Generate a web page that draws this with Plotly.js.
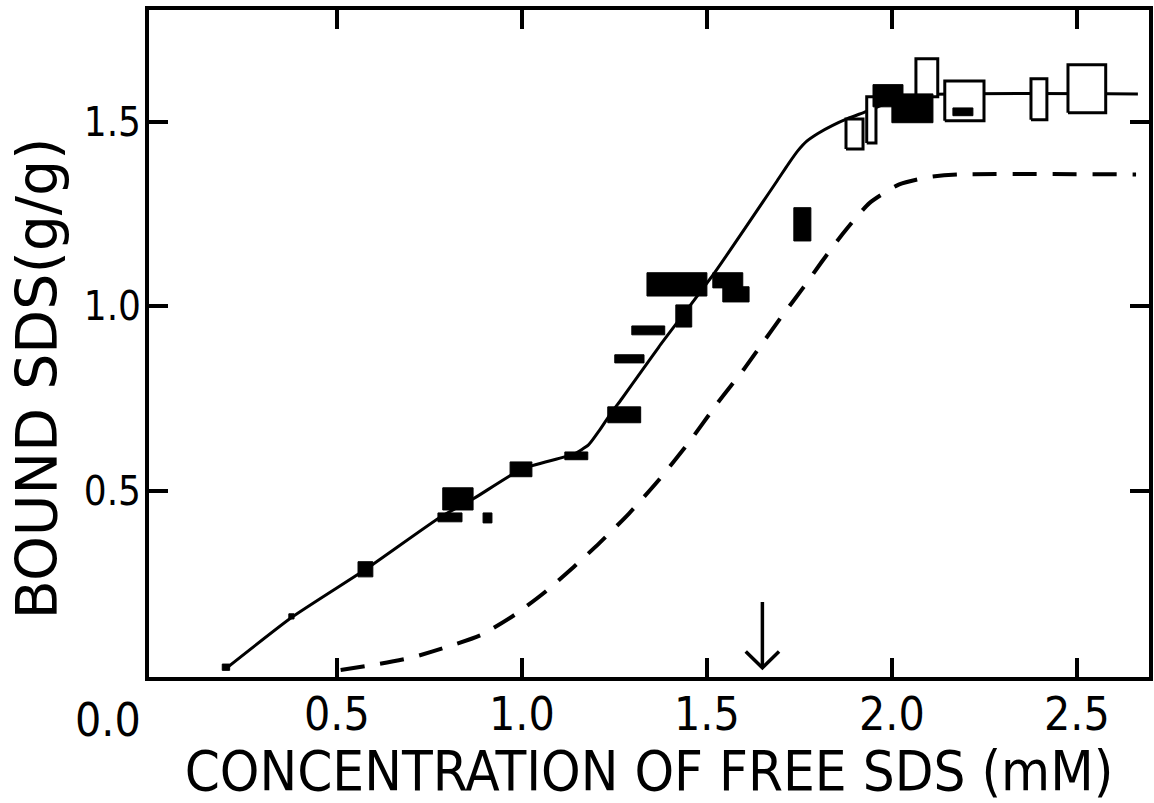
<!DOCTYPE html>
<html>
<head>
<meta charset="utf-8">
<script src="https://cdn.plot.ly/plotly-3.0.1.min.js"></script>
<style>
  html, body { margin: 0; padding: 0; background: #ffffff; }
  #chart { width: 1154px; height: 803px; }
</style>
</head>
<body>
<div id="chart"></div>
<script>
// ---- data ----
// solid curve (bound SDS)
const solidX = [0.20, 0.38, 0.58, 0.78, 0.87, 1.00, 1.14, 1.18, 1.21, 1.24, 1.27, 1.32, 1.37, 1.52, 1.69, 1.72, 1.745, 1.77, 1.80, 1.84, 1.88, 1.93, 2.00, 2.08, 2.665];
const solidY = [0.02, 0.16, 0.29, 0.43, 0.48, 0.56, 0.60, 0.625, 0.665, 0.71, 0.75, 0.82, 0.89, 1.09, 1.34, 1.385, 1.42, 1.447, 1.468, 1.49, 1.508, 1.527, 1.555, 1.572, 1.575];

// dashed curve
const dashX = [0.51, 0.60, 0.70, 0.79, 0.89, 0.98, 1.06, 1.14, 1.21, 1.29, 1.37, 1.45, 1.53, 1.60, 1.65, 1.70, 1.76, 1.81, 1.87, 1.94, 2.02, 2.10, 2.18, 2.66];
const dashY = [0.016, 0.030, 0.049, 0.076, 0.111, 0.165, 0.225, 0.295, 0.36, 0.44, 0.53, 0.63, 0.74, 0.83, 0.90, 0.97, 1.05, 1.12, 1.20, 1.28, 1.33, 1.35, 1.357, 1.357];

// filled (black) data boxes: x range and y range
const filledX0 = [0.19, 0.370, 0.557, 0.786, 0.773, 0.895, 0.968, 1.116, 1.232, 1.251, 1.297, 1.338, 1.516, 1.543, 1.416, 1.735, 1.949, 2.000, 2.165];
const filledX1 = [0.21, 0.384, 0.597, 0.868, 0.838, 0.919, 1.027, 1.178, 1.321, 1.330, 1.386, 1.500, 1.597, 1.614, 1.459, 1.781, 2.030, 2.111, 2.219];
const filledY0 = [0.015, 0.154, 0.268, 0.449, 0.417, 0.414, 0.539, 0.585, 0.685, 0.847, 0.923, 1.028, 1.050, 1.012, 0.944, 1.177, 1.540, 1.497, 1.516];
const filledY1 = [0.032, 0.168, 0.309, 0.509, 0.441, 0.441, 0.579, 0.606, 0.728, 0.869, 0.947, 1.091, 1.091, 1.053, 1.004, 1.267, 1.600, 1.575, 1.537];

// open data boxes: x range and y range
const openX0 = [1.876, 1.932, 2.065, 2.143, 2.376, 2.476];
const openX1 = [1.922, 1.957, 2.124, 2.249, 2.419, 2.578];
const openY0 = [1.426, 1.442, 1.567, 1.502, 1.505, 1.524];
const openY1 = [1.507, 1.567, 1.670, 1.610, 1.616, 1.654];

// arrow marking a concentration on the x axis
const arrowAt = [1.65];
const arrowSpan = [0.20, 0.022];

// tick labels
const xTickVals = [0.5, 1.0, 1.5, 2.0, 2.5];
const xTickText = ['0.5', '1.0', '1.5', '2.0', '2.5'];
const xOriginLabel = ['0.0'];
const yTickVals = [0.5, 1.0, 1.5];
const yTickText = ['0.5', '1.0', '1.5'];

// ---- build traces ----
function rectPath(x0, x1, y0, y1) {
  const xs = [], ys = [];
  for (let i = 0; i < x0.length; i++) {
    xs.push(x0[i], x1[i], x1[i], x0[i], x0[i], null);
    ys.push(y0[i], y0[i], y1[i], y1[i], y0[i], null);
  }
  return { xs, ys };
}
const fr = rectPath(filledX0, filledX1, filledY0, filledY1);
const orr = rectPath(openX0, openX1, openY0, openY1);

const ax = arrowAt[0];
const headW = 0.045, headH = 0.044;
const arrowTrace = {
  x: [ax, ax, null, ax - headW, ax, ax + headW],
  y: [arrowSpan[0], arrowSpan[1], null, arrowSpan[1] + headH, arrowSpan[1], arrowSpan[1] + headH],
  mode: 'lines', line: { color: '#000', width: 3.5 }, hoverinfo: 'skip', showlegend: false
};

const traces = [
  { x: solidX, y: solidY, mode: 'lines', line: { color: '#000', width: 3, shape: 'spline', smoothing: 0.5 }, showlegend: false },
  { x: dashX, y: dashY, mode: 'lines', line: { color: '#000', width: 4, dash: '24px,16px', shape: 'spline', smoothing: 0.6 }, showlegend: false },
  { x: orr.xs, y: orr.ys, mode: 'lines', fill: 'toself', fillcolor: '#ffffff', line: { color: '#000', width: 3 }, showlegend: false },
  { x: fr.xs, y: fr.ys, mode: 'lines', fill: 'toself', fillcolor: '#000000', line: { color: '#000', width: 1 }, showlegend: false },
  arrowTrace
];

const narrow = '"Liberation Sans Narrow", "DejaVu Sans Condensed", "Roboto Condensed", "Liberation Sans", sans-serif';

const layout = {
  width: 1154, height: 803,
  margin: { l: 149, r: 5, t: 10, b: 126 },
  paper_bgcolor: '#ffffff', plot_bgcolor: '#ffffff',
  showlegend: false,
  xaxis: {
    range: [-0.008, 2.695],
    showgrid: false, zeroline: false,
    showline: true, linecolor: '#000', linewidth: 4, mirror: 'ticks',
    ticks: 'inside', ticklen: 19, tickwidth: 4, tickcolor: '#000',
    tickvals: xTickVals, ticktext: xTickText,
    tickfont: { family: narrow, size: 46, color: '#000' },
    ticklabelstandoff: -6,
    title: { text: 'CONCENTRATION OF FREE SDS (mM)', font: { family: narrow, size: 56, color: '#000' }, standoff: 25 }
  },
  yaxis: {
    range: [-0.003, 1.802],
    showgrid: false, zeroline: false,
    showline: true, linecolor: '#000', linewidth: 4, mirror: 'ticks',
    ticks: 'inside', ticklen: 19, tickwidth: 4, tickcolor: '#000',
    tickvals: yTickVals, ticktext: yTickText,
    tickfont: { family: narrow, size: 40, color: '#000' },
    ticklabelstandoff: -4
  },
  annotations: [
    { x: -0.041, y: -0.0645, xref: 'paper', yref: 'paper', text: xOriginLabel[0], showarrow: false,
      xanchor: 'center', yanchor: 'middle', font: { family: narrow, size: 46, color: '#000' } },
    { x: -0.112, y: 0.448, xref: 'paper', yref: 'paper', text: 'BOUND SDS(g/g)', textangle: -90, showarrow: false,
      xanchor: 'center', yanchor: 'middle', font: { family: '"DejaVu Sans", "Liberation Sans", sans-serif', size: 57, color: '#000' } }
  ]
};

Plotly.newPlot('chart', traces, layout, { displayModeBar: false, staticPlot: true });
</script>
</body>
</html>
